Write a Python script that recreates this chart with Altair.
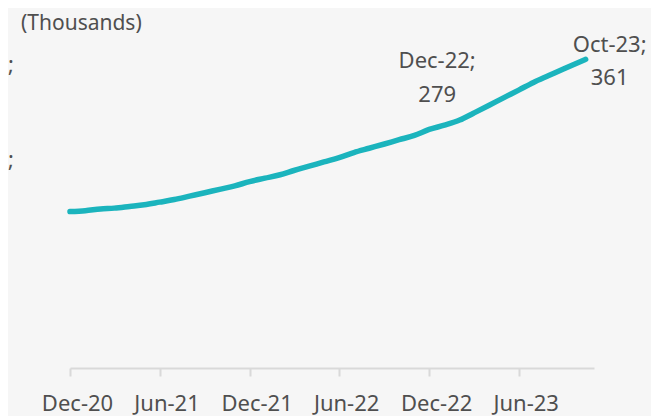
import altair as alt
import pandas as pd

# ---- data (thousands) ----
dates = [
    "2020-12-01", "2021-01-01", "2021-02-01", "2021-03-01", "2021-04-01", "2021-05-01",
    "2021-06-01", "2021-07-01", "2021-08-01", "2021-09-01", "2021-10-01", "2021-11-01",
    "2021-12-01", "2022-01-01", "2022-02-01", "2022-03-01", "2022-04-01", "2022-05-01",
    "2022-06-01", "2022-07-01", "2022-08-01", "2022-09-01", "2022-10-01", "2022-11-01",
    "2022-12-01", "2023-01-01", "2023-02-01", "2023-03-01", "2023-04-01", "2023-05-01",
    "2023-06-01", "2023-07-01", "2023-08-01", "2023-09-01", "2023-10-15",
]
values = [
    183, 184, 186, 187, 189, 191,
    194, 197, 201, 205, 209, 213,
    218, 222, 226, 231, 236, 241,
    246, 252, 257, 262, 267, 272,
    279, 284, 290, 298, 307, 316,
    325, 334, 342, 350, 361,
]
tick_dates = [(2020, 12), (2021, 6), (2021, 12), (2022, 6), (2022, 12), (2023, 6)]
tick_labels = ["Dec-20", "Jun-21", "Dec-21", "Jun-22", "Dec-22", "Jun-23"]
label_dates = ["2022-12-01", "2023-10-15"]
label_values = [279, 361]
label_texts = ["Dec-22;\n279", "Oct-23;\n361"]
unit_title = "(Thousands)"

df = pd.DataFrame({"date": dates, "value": values})
lab1 = pd.DataFrame({"date": [label_dates[0]], "value": [label_values[0]], "t": [label_texts[0]]})
lab2 = pd.DataFrame({"date": [label_dates[1]], "value": [label_values[1]], "t": [label_texts[1]]})

TEXT = "#4f4f4f"
FONT = "Noto Sans"

x_scale = alt.Scale(
    type="utc",
    domain=[alt.DateTime(year=2020, month=12, date=1, utc=True),
            alt.DateTime(year=2023, month=11, date=1, utc=True)],
)
y_scale = alt.Scale(domain=[0, 400], nice=False, zero=True)

x_axis = alt.Axis(
    values=[alt.DateTime(year=y, month=m, date=1, utc=True) for y, m in tick_dates],
    labelExpr="utcFormat(datum.value, '%b-%y')",
    title=None, grid=False,
    domainColor="#d9d9d9", domainWidth=2,
    tickColor="#d9d9d9", tickWidth=2, tickSize=8,
    labelFont=FONT, labelFontSize=22, labelColor=TEXT,
    labelPadding=17, labelOffset=7, labelFlush=False, labelOverlap=False,
)

line = alt.Chart(df).mark_line(color="#1bb4bd", strokeWidth=5.5, strokeCap="round",
                               interpolate="monotone").encode(
    x=alt.X("date:T", scale=x_scale, axis=x_axis),
    y=alt.Y("value:Q", scale=y_scale, axis=None),
)

text_common = dict(font=FONT, fontSize=22, color=TEXT, lineBreak="\n", align="center",
                   baseline="alphabetic")
t1 = alt.Chart(lab1).mark_text(dx=8, dy=-61, lineHeight=34, **text_common).encode(
    x=alt.X("date:T", scale=x_scale), y=alt.Y("value:Q", scale=y_scale), text="t:N")
t2 = alt.Chart(lab2).mark_text(dx=24, dy=-7, lineHeight=33, **text_common).encode(
    x=alt.X("date:T", scale=x_scale), y=alt.Y("value:Q", scale=y_scale), text="t:N")

title_txt = alt.Chart(pd.DataFrame({"t": [unit_title]})).mark_text(
    font=FONT, fontSize=21, color=TEXT, align="left", baseline="alphabetic"
).encode(x=alt.value(-49), y=alt.value(4), text="t:N")

semi = alt.Chart(pd.DataFrame({"t": [";", ";"], "yy": [46, 141]})).mark_text(
    font=FONT, fontSize=22, color=TEXT, align="left", baseline="alphabetic"
).encode(x=alt.value(-62), y=alt.Y("yy:Q", scale=None), text="t:N")

chart = alt.layer(line, t1, t2, title_txt, semi).properties(
    width=524, height=342,
    background="#f6f6f6",
    padding={"left": 62, "top": 18, "right": 57, "bottom": 48},
    autosize=alt.AutoSizeParams(type="none"),
).configure_view(stroke=None)

chart.save("out.html", embed_options={"renderer": "svg", "actions": False})
